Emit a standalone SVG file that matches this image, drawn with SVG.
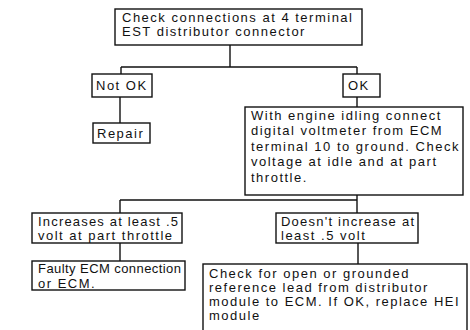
<svg xmlns="http://www.w3.org/2000/svg" width="470" height="330" viewBox="0 0 470 330">
<style>
rect{fill:#fff;stroke:#111;stroke-width:1.4}
.c{fill:none;stroke:#111;stroke-width:1.4}
text{font-family:"Liberation Sans",Arial,sans-serif;font-size:13px;letter-spacing:1.5px;fill:#111}
.fit{letter-spacing:0}
</style>
<rect x="0" y="0" width="470" height="330" style="stroke:none"/>
<g id="connectors">
<path class="c" d="M230 45V67M121 67H357M121 67V74M357 67V74M120 97V123M357 97V107M357 195V200M120 200H357M120 200V213M357 200V213M120 243V261M358 243V264"/>
</g>
<g id="check-connections">
<rect x="115" y="9" width="247" height="36"/>
<text x="122" y="22">Check connections at 4 terminal</text>
<text x="122" y="36">EST distributor connector</text>
</g>
<g id="not-ok">
<rect x="92" y="74" width="60" height="23"/>
<text x="96" y="90">Not OK</text>
</g>
<g id="ok">
<rect x="343" y="74" width="37" height="23"/>
<text x="348" y="90">OK</text>
</g>
<g id="repair">
<rect x="93" y="123" width="57" height="20"/>
<text x="97" y="137.5">Repair</text>
</g>
<g id="voltmeter">
<rect x="245" y="107" width="218" height="88"/>
<text x="251" y="119.5">With engine idling connect</text>
<text x="251" y="135">digital voltmeter from ECM</text>
<text x="251" y="150.5">terminal 10 to ground. Check</text>
<text x="251" y="166">voltage at idle and at part</text>
<text x="251" y="181.5">throttle.</text>
</g>
<g id="increases">
<rect x="32" y="213" width="150" height="30"/>
<text class="fit" x="38" y="225.5" textLength="140">Increases at least .5</text>
<text x="38" y="239.5">volt at part throttle</text>
</g>
<g id="doesnt-increase">
<rect x="276" y="213" width="142" height="30"/>
<text class="fit" x="281" y="225.5" textLength="133">Doesn't increase at</text>
<text x="281" y="239.5">least .5 volt</text>
</g>
<g id="faulty-ecm">
<rect x="32" y="261" width="153" height="29"/>
<text class="fit" x="38" y="273" textLength="143">Faulty ECM connection</text>
<text x="38" y="287.5">or ECM.</text>
</g>
<g id="check-open">
<rect x="203" y="264" width="264" height="70"/>
<text x="209" y="278">Check for open or grounded</text>
<text x="209" y="292">reference lead from distributor</text>
<text x="209" y="306">module to ECM. If OK, replace HEI</text>
<text x="209" y="320">module</text>
</g>
</svg>
